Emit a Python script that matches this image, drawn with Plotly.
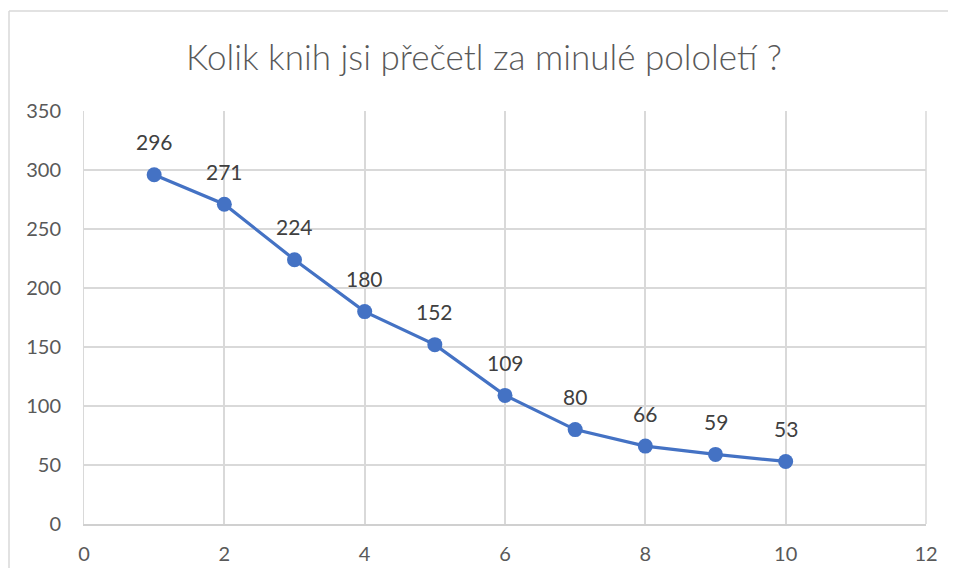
import plotly.graph_objects as go

x_vals = [1, 2, 3, 4, 5, 6, 7, 8, 9, 10]
y_vals = [296, 271, 224, 180, 152, 109, 80, 66, 59, 53]
title = "Kolik knih jsi přečetl za minulé pololetí ?"

# page body has an 8px margin, so the figure is offset by 8px
W, H = 940, 560
ml, mt = 76, 103
pw, ph = 918 - ml, 516 - mt
mr, mb = W - ml - pw, H - mt - ph

FONT = "Lato, Carlito, sans-serif"

fig = go.Figure()
fig.add_trace(go.Scatter(
    x=x_vals, y=y_vals, mode="lines+markers",
    line=dict(color="#4472C4", width=3.2),
    marker=dict(color="#4472C4", size=15),
    cliponaxis=False, showlegend=False,
))
for xv, yv in zip(x_vals, y_vals):
    fig.add_annotation(x=xv, y=yv, text=str(yv), showarrow=False,
                       yshift=33, font=dict(family=FONT, size=21, color="#404040"))

fig.update_layout(
    width=W, height=H, autosize=False,
    margin=dict(l=ml, r=mr, t=mt, b=mb, autoexpand=False),
    paper_bgcolor="white", plot_bgcolor="white",
    title=dict(text=title, x=476 / W, xanchor="center", y=1 - 50 / H, yanchor="middle",
               automargin=False,
               font=dict(family=FONT, size=35, color="#595959", weight=300)),
    xaxis=dict(range=[0, 12], dtick=2, tick0=0, showgrid=True, gridcolor="#D9D9D9", gridwidth=1.5,
               zeroline=False, showline=True, linecolor="#D0D0D0", linewidth=2,
               ticks="", ticklabelstandoff=11, automargin=False,
               tickfont=dict(family=FONT, size=20, color="#595959")),
    yaxis=dict(range=[0, 350], dtick=50, tick0=0, showgrid=True, gridcolor="#D9D9D9", gridwidth=1.5,
               zeroline=False, showline=True, linecolor="#D9D9D9", linewidth=1,
               ticks="", ticklabelstandoff=18, automargin=False,
               tickfont=dict(family=FONT, size=20, color="#595959")),
)
# right border of plot area
fig.add_shape(type="line", xref="paper", yref="paper", x0=1, x1=1, y0=0, y1=1,
              line=dict(color="#D9D9D9", width=1.5), layer="below")
# chart area border: only left and top edges are visible in the reference
fig.add_shape(type="line", xref="paper", yref="paper",
              x0=(1 - ml) / pw, x1=(1 - ml) / pw,
              y0=-mb / ph, y1=1 + (mt - 3) / ph,
              line=dict(color="#D9D9D9", width=1.5), layer="below")
fig.add_shape(type="line", xref="paper", yref="paper",
              x0=(1 - ml) / pw, x1=(W - ml) / pw,
              y0=1 + (mt - 3) / ph, y1=1 + (mt - 3) / ph,
              line=dict(color="#D9D9D9", width=1.5), layer="below")

fig.write_html("out.html")
